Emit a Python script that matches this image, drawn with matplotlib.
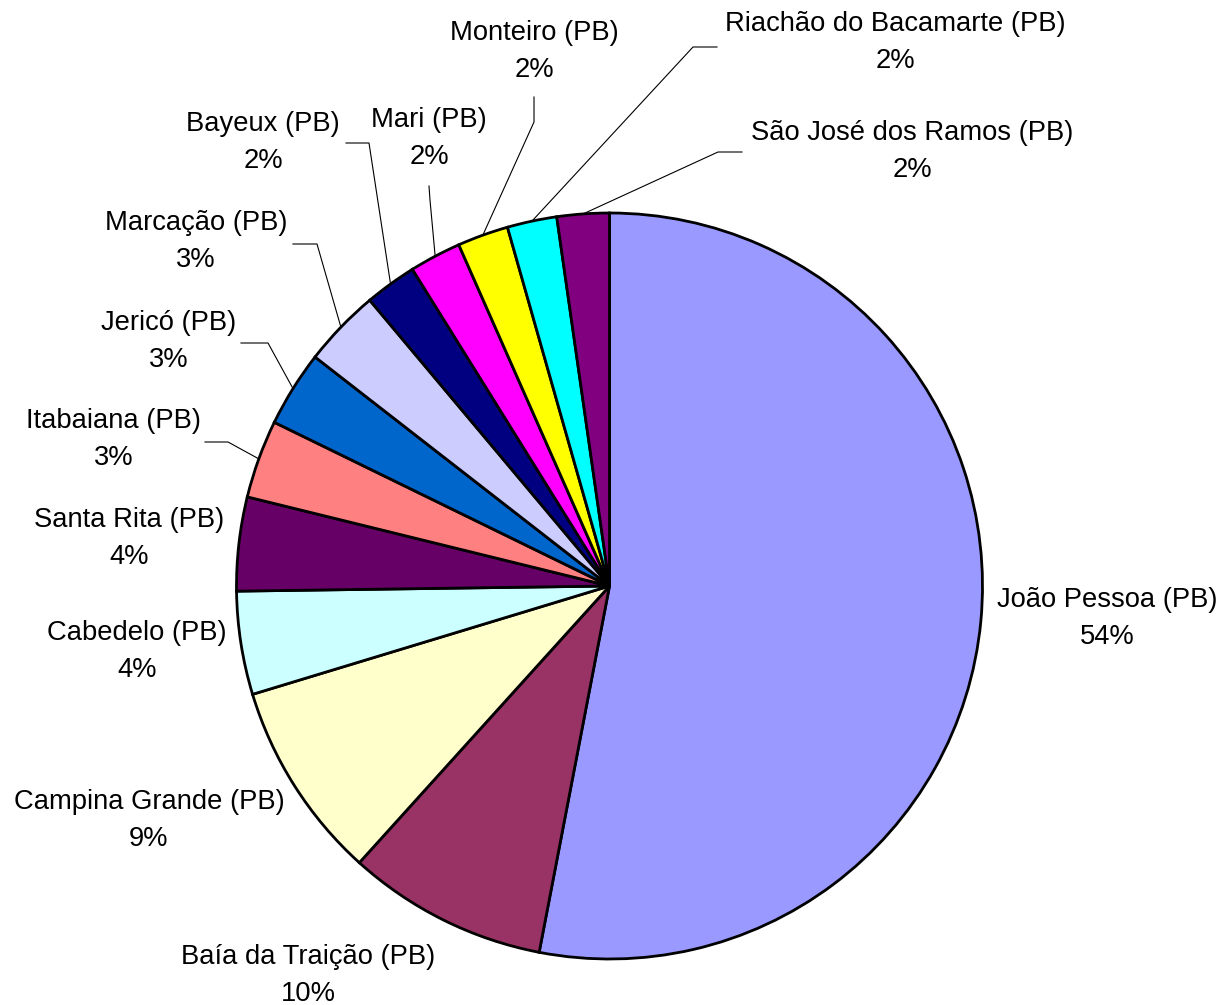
import matplotlib
matplotlib.use("Agg")
import matplotlib.pyplot as plt
import numpy as np

plt.rcParams['font.family'] = ['Liberation Sans', 'DejaVu Sans']

# ---- data ----
cities = ["João Pessoa (PB)", "Baía da Traição (PB)", "Campina Grande (PB)",
          "Cabedelo (PB)", "Santa Rita (PB)", "Itabaiana (PB)", "Jericó (PB)",
          "Marcação (PB)", "Bayeux (PB)", "Mari (PB)", "Monteiro (PB)",
          "Riachão do Bacamarte (PB)", "São José dos Ramos (PB)"]
values = [53.02, 8.68, 8.61, 4.47, 4.06, 3.39, 3.29, 3.37, 2.25, 2.24, 2.21, 2.15, 2.26]
pct_labels = ["54%", "10%", "9%", "4%", "4%", "3%", "3%", "3%", "2%", "2%", "2%", "2%", "2%"]
colors = ["#9999FF", "#993366", "#FFFFCC", "#CCFFFF", "#660066", "#FF8080",
          "#0066CC", "#CCCCFF", "#000080", "#FF00FF", "#FFFF00", "#00FFFF", "#800080"]

# ---- layout (pixel coordinates, origin top-left) ----
W, H = 1224, 1005
center_px = (609.5, 586)
radius_px = 373
label_pos = [(1107, 600), (308, 957), (149, 802), (137, 633), (129, 520),
             (114, 421), (169, 323), (196, 223), (263, 124), (429, 120),
             (534, 33), (895, 24), (912, 133)]
line_gap = 37
leaders = {5: [(228, 442), (205, 442)],
           6: [(268, 343), (241, 343)],
           7: [(317, 244), (293, 244)],
           8: [(369, 143), (346, 143)],
           9: [(430, 200), (429, 186)],
           10: [(534, 122), (534, 97)],
           11: [(693, 47), (717, 47)],
           12: [(718, 152), (742, 152)]}


def P(px, py):
    return px, H - py


fig = plt.figure(figsize=(W / 100, H / 100), dpi=100)
ax = fig.add_axes([0, 0, 1, 1])
cx, cy = P(*center_px)
wedges, _ = ax.pie(values, colors=colors, startangle=90, counterclock=False,
                   center=(cx, cy), radius=radius_px,
                   wedgeprops=dict(edgecolor="black", linewidth=2.0))
ax.set_xlim(0, W)
ax.set_ylim(0, H)
ax.set_aspect('equal')
ax.axis('off')

fs = 19.7
for i, (name, pct) in enumerate(zip(cities, pct_labels)):
    lx, ly = label_pos[i]
    ax.text(*P(lx, ly), name, ha='center', va='center', fontsize=fs, color='black')
    ax.text(*P(lx, ly + line_gap), pct, ha='center', va='center', fontsize=fs, color='black')
    if i in leaders:
        w = wedges[i]
        mid = np.deg2rad((w.theta1 + w.theta2) / 2)
        ex = cx + radius_px * np.cos(mid)
        ey = cy + radius_px * np.sin(mid)
        pts = [(ex, ey)] + [P(*p) for p in leaders[i]]
        xs, ys = zip(*pts)
        ax.plot(xs, ys, color='black', linewidth=0.8, zorder=0.5)

fig.savefig("out.png", dpi=100)
